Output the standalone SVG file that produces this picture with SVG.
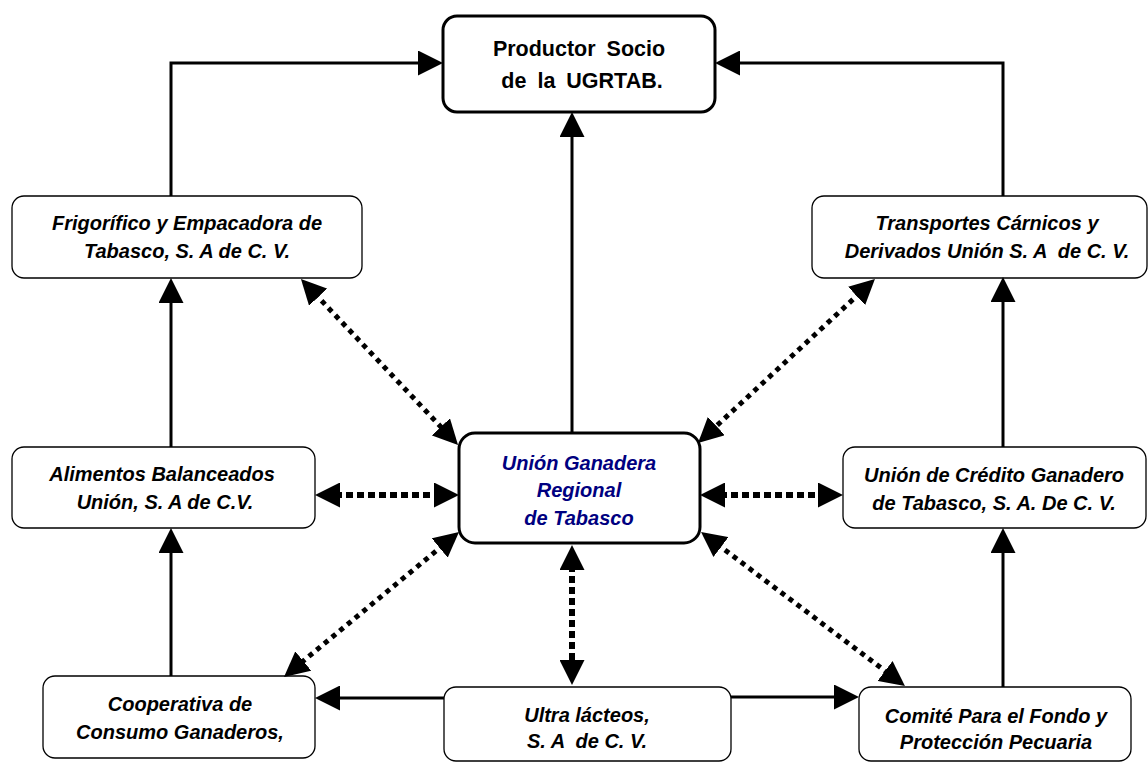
<svg xmlns="http://www.w3.org/2000/svg" width="1148" height="763" viewBox="0 0 1148 763">
<style>
.box{fill:#fff;stroke:#000;stroke-width:1.3}
.boxb{fill:#fff;stroke:#000;stroke-width:3}
.lbl{font-family:"Liberation Sans",Arial,sans-serif;font-size:20px;font-weight:bold;font-style:italic;text-anchor:middle;fill:#000}
.main{fill:#000080}
.top{font-style:normal;font-size:21.5px;word-spacing:5px}
.solid{fill:none;stroke:#000;stroke-width:3}
.dot{fill:none;stroke:#000;stroke-width:6;stroke-dasharray:7 4}
.ddot{fill:none;stroke:#000;stroke-width:5;stroke-dasharray:5 5}
</style>
<defs>
<marker id="ah" viewBox="0 0 25 25" refX="5" refY="12.5" markerWidth="25" markerHeight="25" markerUnits="userSpaceOnUse" orient="auto-start-reverse">
<path d="M0,0 L25,12.5 L0,25 Z" fill="#000"/>
</marker>
</defs>
<rect width="1148" height="763" fill="#fff"/>
<g id="productor">
<rect class="boxb" x="443" y="16" width="272" height="96" rx="14"/>
<text class="lbl top" x="579" y="56">Productor Socio</text>
<text class="lbl top" x="582" y="88">de la UGRTAB.</text>
</g>
<g id="ugrt">
<rect class="boxb" x="459" y="433" width="241" height="110" rx="16"/>
<text class="lbl main" x="579" y="470">Unión Ganadera</text>
<text class="lbl main" x="579" y="497">Regional</text>
<text class="lbl main" x="579" y="525">de Tabasco</text>
</g>
<g id="frigorifico">
<rect class="box" x="12" y="196" width="350" height="82" rx="12"/>
<text class="lbl" x="187" y="230">Frigorífico y Empacadora de</text>
<text class="lbl" x="187" y="258">Tabasco, S. A de C. V.</text>
</g>
<g id="transportes">
<rect class="box" x="812" y="196" width="335" height="82" rx="12"/>
<text class="lbl" x="987" y="230">Transportes Cárnicos y</text>
<text class="lbl" x="987" y="258" style="white-space:pre">Derivados Unión S. A  de C. V.</text>
</g>
<g id="alimentos">
<rect class="box" x="12" y="447" width="303" height="81" rx="12"/>
<text class="lbl" x="162" y="481">Alimentos Balanceados</text>
<text class="lbl" x="165" y="509">Unión, S. A de C.V.</text>
</g>
<g id="credito">
<rect class="box" x="843" y="447" width="303" height="81" rx="12"/>
<text class="lbl" x="994" y="482">Unión de Crédito Ganadero</text>
<text class="lbl" x="994" y="510">de Tabasco, S. A. De C. V.</text>
</g>
<g id="cooperativa">
<rect class="box" x="43" y="676" width="272" height="82" rx="12"/>
<text class="lbl" x="180" y="711">Cooperativa de</text>
<text class="lbl" x="180" y="739">Consumo Ganaderos,</text>
</g>
<g id="ultra">
<rect class="box" x="444" y="687" width="287" height="74" rx="12"/>
<text class="lbl" x="587" y="722">Ultra lácteos,</text>
<text class="lbl" x="587" y="748" style="white-space:pre">S. A  de C. V.</text>
</g>
<g id="comite">
<rect class="box" x="859" y="687" width="272" height="74" rx="12"/>
<text class="lbl" x="996" y="723">Comité Para el Fondo y</text>
<text class="lbl" x="996" y="749">Protección Pecuaria</text>
</g>
<g id="connectors">
<path class="solid" d="M572,433 L572,132" marker-end="url(#ah)"/>
<path class="solid" d="M171,196 L171,63 L423,63" marker-end="url(#ah)"/>
<path class="solid" d="M1003,196 L1003,63 L735,63" marker-end="url(#ah)"/>
<path class="solid" d="M171,447 L171,298" marker-end="url(#ah)"/>
<path class="solid" d="M171,676 L171,548" marker-end="url(#ah)"/>
<path class="solid" d="M1003,447 L1003,297" marker-end="url(#ah)"/>
<path class="solid" d="M1003,687 L1003,548" marker-end="url(#ah)"/>
<path class="solid" d="M444,698 L335,698" marker-end="url(#ah)"/>
<path class="solid" d="M731,697 L839,697" marker-end="url(#ah)"/>
<path class="dot" d="M335,495 L439,495" marker-start="url(#ah)" marker-end="url(#ah)"/>
<path class="dot" d="M720,495 L823,495" marker-start="url(#ah)" marker-end="url(#ah)"/>
<path class="dot" d="M572,565 L572,665" marker-start="url(#ah)" marker-end="url(#ah)"/>
<path class="ddot" d="M314.7,293.5 L444.3,430.5" marker-start="url(#ah)" marker-end="url(#ah)"/>
<path class="ddot" d="M860.3,292.6 L712.7,429.4" marker-start="url(#ah)" marker-end="url(#ah)"/>
<path class="ddot" d="M443.6,544.8 L299.4,664.2" marker-start="url(#ah)" marker-end="url(#ah)"/>
<path class="ddot" d="M717,544 L889,674" marker-start="url(#ah)" marker-end="url(#ah)"/>
</g>
</svg>
